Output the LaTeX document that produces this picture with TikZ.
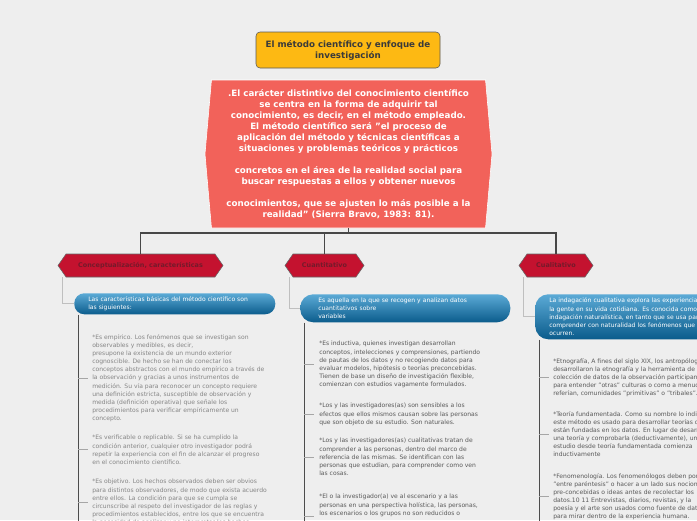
\documentclass[tikz,border=0pt]{standalone}
\usepackage{fontspec}
\setmainfont{DejaVu Sans}
\usepackage{xcolor}
\usetikzlibrary{positioning, shapes.symbols}

\definecolor{fondo}{HTML}{EEEEEE}
\definecolor{amarillo}{HTML}{FDB913}
\definecolor{gristit}{HTML}{3A3A3A}
\definecolor{salmon}{HTML}{F2625A}
\definecolor{carmesi}{HTML}{C4122F}
\definecolor{rojotexto}{HTML}{741A2B}
\definecolor{azulclaro}{HTML}{5BAAD6}
\definecolor{azuloscuro}{HTML}{0B5C8C}
\definecolor{grisuno}{HTML}{868686}
\definecolor{grisdos}{HTML}{5A5A5A}

\newlength{\pxl}
\setlength{\pxl}{0.025cm}

\tikzset{
  titulo/.style={draw=black!65, fill=amarillo, rounded corners=4\pxl,
    minimum width=184\pxl, minimum height=36\pxl, align=center,
    text=gristit, font=\fontsize{6.2}{7.8}\selectfont\bfseries},
  nucleo/.style={signal, signal to=west and east, signal pointer angle=170,
    fill=salmon, draw=white, minimum width=287\pxl, minimum height=148\pxl,
    align=center, text=white, font=\fontsize{6.2}{7.8}\selectfont\bfseries},
  hexa/.style={signal, signal to=west and east, signal pointer angle=110,
    fill=carmesi, draw=black!60, minimum height=23\pxl, inner sep=1pt,
    text=rojotexto, font=\fontsize{4.6}{5}\selectfont\bfseries},
  barra/.style={anchor=north west, top color=azulclaro, bottom color=azuloscuro,
    draw=none, align=left, text=white, inner ysep=0pt,
    font=\fontsize{4.3}{5.8}\selectfont},
  cuerpo/.style={anchor=north west, align=left, inner sep=0pt,
    font=\fontsize{4.3}{5.8}\selectfont},
  tronco/.style={draw=black!72, line width=1.4pt},
  rama/.style={draw=black!25, line width=1pt},
  espina/.style={draw=black!70, line width=0.7pt},
  marca/.style={draw=black!35, line width=0.6pt},
}

\begin{document}
\begin{tikzpicture}[x=0.025cm, y=-0.025cm]
  \useasboundingbox (0,0) rectangle (697,520);
  \clip (0,0) rectangle (697,520);
  \fill[fondo] (0,0) rectangle (697,520);

  % titulo y nodo central
  \node[titulo] (tit) at (348,50) {El método científico y enfoque de\\investigación};
  \node[nucleo] (cen) at (348.5,154) {.El carácter distintivo del conocimiento científico\\
    se centra en la forma de adquirir tal\\
    conocimiento, es decir, en el método empleado.\\
    El método científico será "el proceso de\\
    aplicación del método y técnicas científicas a\\
    situaciones y problemas teóricos y prácticos\\[7.8pt]
    concretos en el área de la realidad social para\\
    buscar respuestas a ellos y obtener nuevos\\[7.8pt]
    conocimientos, que se ajusten lo más posible a la\\
    realidad" (Sierra Bravo, 1983: 81).};

  % ramas principales
  \node[hexa, minimum width=165\pxl] (hexA) at (140.5,265.5) {Conceptualización, características};
  \node[hexa, minimum width=79\pxl] (hexB) at (324.5,265.5) {Cuantitativo};
  \node[hexa, minimum width=74\pxl] (hexC) at (556,265.5) {Cualitativo};
  \draw[tronco] (cen.south) -- ++(0,5) -| (hexA.north);
  \draw[tronco] (cen.south) -- ++(0,5) -| (hexB.north);
  \draw[tronco] (cen.south) -- ++(0,5) -| (hexC.north);

  % barras azules
  \node[barra, rounded corners=10\pxl, minimum height=21\pxl, inner xsep=14\pxl,
    text width=173\pxl] (barA) at (74,293)
    {Las características básicas del método científico son\\las siguientes:};
  \node[barra, rounded corners=13\pxl, minimum height=28\pxl, inner xsep=18\pxl,
    text width=174\pxl] (barB) at (300,294)
    {Es aquella en la que se recogen y analizan datos\\cuantitativos sobre\\variables};
  \node[barra, rounded corners=13\pxl, minimum height=45\pxl, inner xsep=14\pxl,
    text width=200\pxl] (barC) at (535,294)
    {La indagación cualitativa explora las experiencias de\\
    la gente en su vida cotidiana. Es conocida como\\
    indagación naturalística, en tanto que se usa para\\
    comprender con naturalidad los fenómenos que\\
    ocurren.};
  \coordinate (pA) at ([xshift=5\pxl]hexA.west);
  \coordinate (pB) at ([xshift=5\pxl]hexB.west);
  \coordinate (pC) at ([xshift=5\pxl]hexC.west);
  \draw[rama] (pA |- hexA.south) |- (barA.west);
  \draw[rama] (pB |- hexB.south) |- (barB.west);
  \draw[rama] (pC |- hexC.south) |- (barC.west);

  % columna 1
  \node[cuerpo, text=grisuno] (tA1) at (92,334) {*Es empírico. Los fenómenos que se investigan son\\
    observables y medibles, es decir,\\
    presupone la existencia de un mundo exterior\\
    cognoscible. De hecho se han de conectar los\\
    conceptos abstractos con el mundo empírico a través de\\
    la observación y gracias a unos instrumentos de\\
    medición. Su vía para reconocer un concepto requiere\\
    una definición estricta, susceptible de observación y\\
    medida (definición operativa) que señale los\\
    procedimientos para verificar empíricamente un\\
    concepto.};
  \node[cuerpo, text=grisuno] (tA2) at (92,435) {*Es verificable o replicable. Si se ha cumplido la\\
    condición anterior, cualquier otro investigador podrá\\
    repetir la experiencia con el fin de alcanzar el progreso\\
    en el conocimiento científico.};
  \node[cuerpo, text=grisuno] (tA3) at (92,479) {*Es objetivo. Los hechos observados deben ser obvios\\
    para distintos observadores, de modo que exista acuerdo\\
    entre ellos. La condición para que se cumpla se\\
    circunscribe al respeto del investigador de las reglas y\\
    procedimientos establecidos, entre los que se encuentra\\
    la necesidad de analizar y no interpretar los hechos};
  \coordinate (eA) at ([xshift=4\pxl]barA.south west);
  \draw[espina] (eA) -- (eA |- 0,530);
  \foreach \t in {tA1, tA2, tA3}
    \draw[marca] (eA |- \t.west) -- ++(10,0);

  % columna 2
  \node[cuerpo, text=grisdos] (tB1) at (319,341) {*Es inductiva, quienes investigan desarrollan\\
    conceptos, intelecciones y comprensiones, partiendo\\
    de pautas de los datos y no recogiendo datos para\\
    evaluar modelos, hipótesis o teorías preconcebidas.\\
    Tienen de base un diseño de investigación flexible,\\
    comienzan con estudios vagamente formulados.};
  \node[cuerpo, text=grisdos] (tB2) at (319,403) {*Los y las investigadores(as) son sensibles a los\\
    efectos que ellos mismos causan sobre las personas\\
    que son objeto de su estudio. Son naturales.};
  \node[cuerpo, text=grisdos] (tB3) at (319,438) {*Los y las investigadores(as) cualitativas tratan de\\
    comprender a las personas, dentro del marco de\\
    referencia de las mismas. Se identifican con las\\
    personas que estudian, para comprender como ven\\
    las cosas.};
  \node[cuerpo, text=grisdos] (tB4) at (319,494) {*El o la investigador(a) ve al escenario y a las\\
    personas en una perspectiva holística, las personas,\\
    los escenarios o los grupos no son reducidos o};
  \coordinate (eB) at ([xshift=4\pxl]barB.south west);
  \draw[espina] (eB) -- (eB |- 0,530);
  \foreach \t in {tB1, tB2, tB3}
    \draw[marca] (eB |- \t.west) -- ++(10,0);
  \draw[marca] (eB |- tB4.south) -- ++(10,0);

  % columna 3
  \node[cuerpo, text=grisdos] (tC1) at (553,358) {*Etnografía, A fines del siglo XIX, los antropólogos\\
    desarrollaron la etnografía y la herramienta de\\
    colección de datos de la observación participante\\
    para entender "otras" culturas o como a menudo se\\
    referían, comunidades "primitivas" o "tribales".};
  \node[cuerpo, text=grisdos] (tC2) at (553,411) {*Teoría fundamentada. Como su nombre lo indica,\\
    este método es usado para desarrollar teorías que\\
    están fundadas en los datos. En lugar de desarrollar\\
    una teoría y comprobarla (deductivamente), un\\
    estudio desde teoría fundamentada comienza\\
    inductivamente};
  \node[cuerpo, text=grisdos] (tC3) at (553,473) {*Fenomenología. Los fenomenólogos deben poner\\
    "entre paréntesis" o hacer a un lado sus nociones\\
    pre-concebidas  o ideas antes de recolectar los\\
    datos.10 11 Entrevistas, diarios, revistas, y la\\
    poesía y el arte son usados como fuente de datos\\
    para mirar dentro de la experiencia humana.};
  \coordinate (eC) at ([xshift=4\pxl]barC.south west);
  \draw[espina] (eC) -- (eC |- 0,530);
  \foreach \t in {tC1, tC2, tC3}
    \draw[marca] (eC |- \t.west) -- ++(10,0);
\end{tikzpicture}
\end{document}
